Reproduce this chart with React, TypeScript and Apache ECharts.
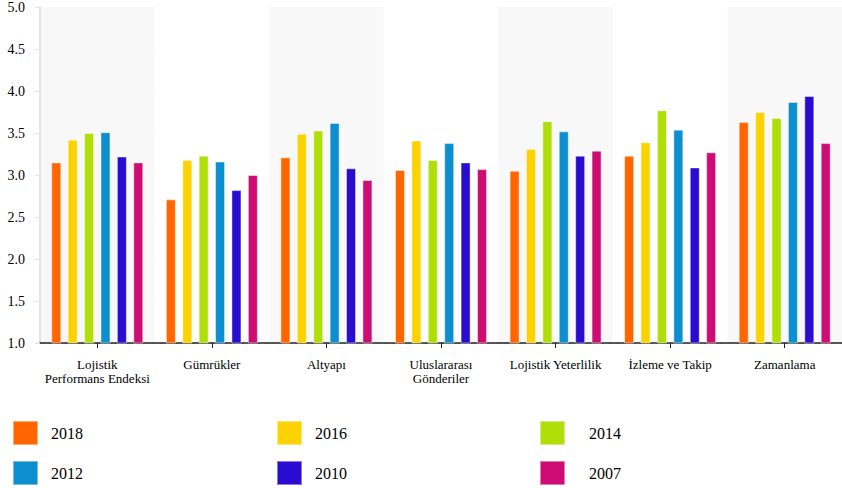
import React, { useEffect, useRef } from 'react';
import * as echarts from 'echarts';

const categories = [
  'Lojistik\nPerformans Endeksi',
  'Gümrükler',
  'Altyapı',
  'Uluslararası\nGönderiler',
  'Lojistik Yeterlilik',
  'İzleme ve Takip',
  'Zamanlama',
];
const years = ['2018', '2016', '2014', '2012', '2010', '2007'];
const v2018 = [3.15, 2.71, 3.21, 3.06, 3.05, 3.23, 3.63];
const v2016 = [3.42, 3.18, 3.49, 3.41, 3.31, 3.39, 3.75];
const v2014 = [3.5, 3.23, 3.53, 3.18, 3.64, 3.77, 3.68];
const v2012 = [3.51, 3.16, 3.62, 3.38, 3.52, 3.54, 3.87];
const v2010 = [3.22, 2.82, 3.08, 3.15, 3.23, 3.09, 3.94];
const v2007 = [3.15, 3.0, 2.94, 3.07, 3.29, 3.27, 3.38];
const seriesValues = [v2018, v2016, v2014, v2012, v2010, v2007];
const colors = ['#FF6600', '#FCD202', '#B0DE09', '#0D8ECF', '#2A0CD0', '#CD0D74'];
const yMin = 1;
const yMax = 5;
const yStep = 0.5;

const FONT = '"Liberation Serif", "Times New Roman", serif';

export default function App() {
  const ref = useRef<HTMLDivElement>(null);
  useEffect(() => {
    document.body.style.margin = '0';
    if (!ref.current) return;
    const chart = echarts.init(ref.current, undefined, { renderer: 'svg' });
    const legendBase = {
      orient: 'vertical' as const,
      top: 420,
      padding: 0,
      itemWidth: 25,
      itemHeight: 24,
      itemGap: 14,
      icon: 'rect',
      selectedMode: false,
    };
    chart.setOption({
      animation: false,
      backgroundColor: '#ffffff',
      grid: { left: 40, right: 0, top: 7, bottom: 145, containLabel: false },
      legend: [
        { ...legendBase, left: 12, data: ['2018', '2012'], textStyle: { fontFamily: FONT, fontSize: 16, color: '#000', padding: [0, 0, 0, 8] } },
        { ...legendBase, left: 276, data: ['2016', '2010'], textStyle: { fontFamily: FONT, fontSize: 16, color: '#000', padding: [0, 0, 0, 8] } },
        { ...legendBase, left: 539, data: ['2014', '2007'], textStyle: { fontFamily: FONT, fontSize: 16, color: '#000', padding: [0, 0, 0, 19] } },
      ],
      xAxis: {
        type: 'category',
        data: categories,
        boundaryGap: true,
        axisLine: { show: true, lineStyle: { color: '#222', width: 1.5 } },
        axisTick: { show: true, alignWithLabel: true, length: 5, lineStyle: { color: '#222' } },
        axisLabel: { interval: 0, margin: 14, fontFamily: FONT, fontSize: 13, lineHeight: 14, color: '#000' },
        splitArea: { show: true, areaStyle: { color: ['#f8f8f8', '#ffffff'] } },
        splitLine: { show: false },
      },
      yAxis: {
        type: 'value',
        min: yMin,
        max: yMax,
        interval: yStep,
        axisLine: { show: true, lineStyle: { color: '#dddddd', width: 1.5 } },
        axisTick: { show: true, length: 5, lineStyle: { color: '#e4e4e4' } },
        axisLabel: {
          margin: 15,
          fontFamily: FONT,
          fontSize: 14,
          color: '#000',
          formatter: (v: number) => v.toFixed(1),
        },
        splitLine: { show: true, lineStyle: { color: '#dddddd', type: [4, 4], width: 1 } },
      },
      series: years.map((y, i) => ({
        name: y,
        type: 'bar',
        data: seriesValues[i],
        barWidth: 10,
        barGap: '64%',
        itemStyle: { color: colors[i], borderColor: 'rgba(255,255,255,0.45)', borderWidth: 1 },
      })),
    });
    return () => chart.dispose();
  }, []);
  return <div ref={ref} style={{ width: 842, height: 488 }} />;
}
